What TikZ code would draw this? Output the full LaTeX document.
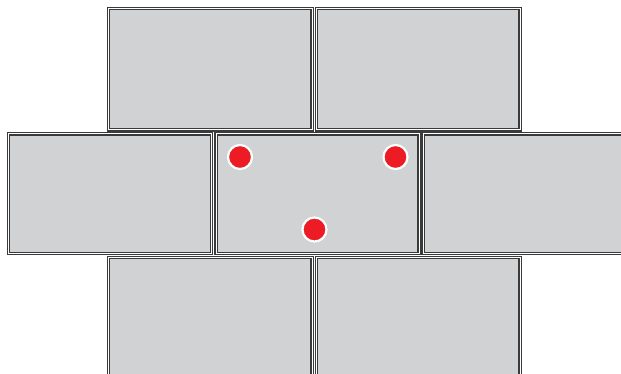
\documentclass[tikz,border=0pt]{standalone}
\usetikzlibrary{calc}
\definecolor{brickgray}{HTML}{D1D2D4}
\definecolor{edge}{HTML}{3A3A3A}
\definecolor{dotred}{HTML}{ED1C24}
\tikzset{
  brick/.style={fill=brickgray, draw=edge, line width=1.1pt, double=white, double distance=1pt},
  dot/.style={circle, fill=dotred, draw=white, line width=2.2pt, minimum size=24pt, inner sep=0pt}
}
\begin{document}
\begin{tikzpicture}[x=1pt,y=-1pt]
\useasboundingbox (0,0) rectangle (621,374);
\clip (0,0) rectangle (621,374);
% top row
\draw[brick] (108.5,8.5) rectangle (312,130);
\draw[brick] (316.5,8.5) rectangle (520,130);
% middle row
\draw[brick] (8.5,134) rectangle (211.5,253.5);
\draw[brick] (216,134) rectangle (419,253.5);
\draw[brick] (423,134) rectangle (640,253.5);
% bottom row
\draw[brick] (108.5,257.5) rectangle (312,400);
\draw[brick] (316.5,257.5) rectangle (520,400);
% dots
\node[dot] (d1) at (240,157) {};
\node[dot] (d2) at (395.5,157) {};
\node[dot] (d3) at (314.5,229.5) {};
\end{tikzpicture}
\end{document}
